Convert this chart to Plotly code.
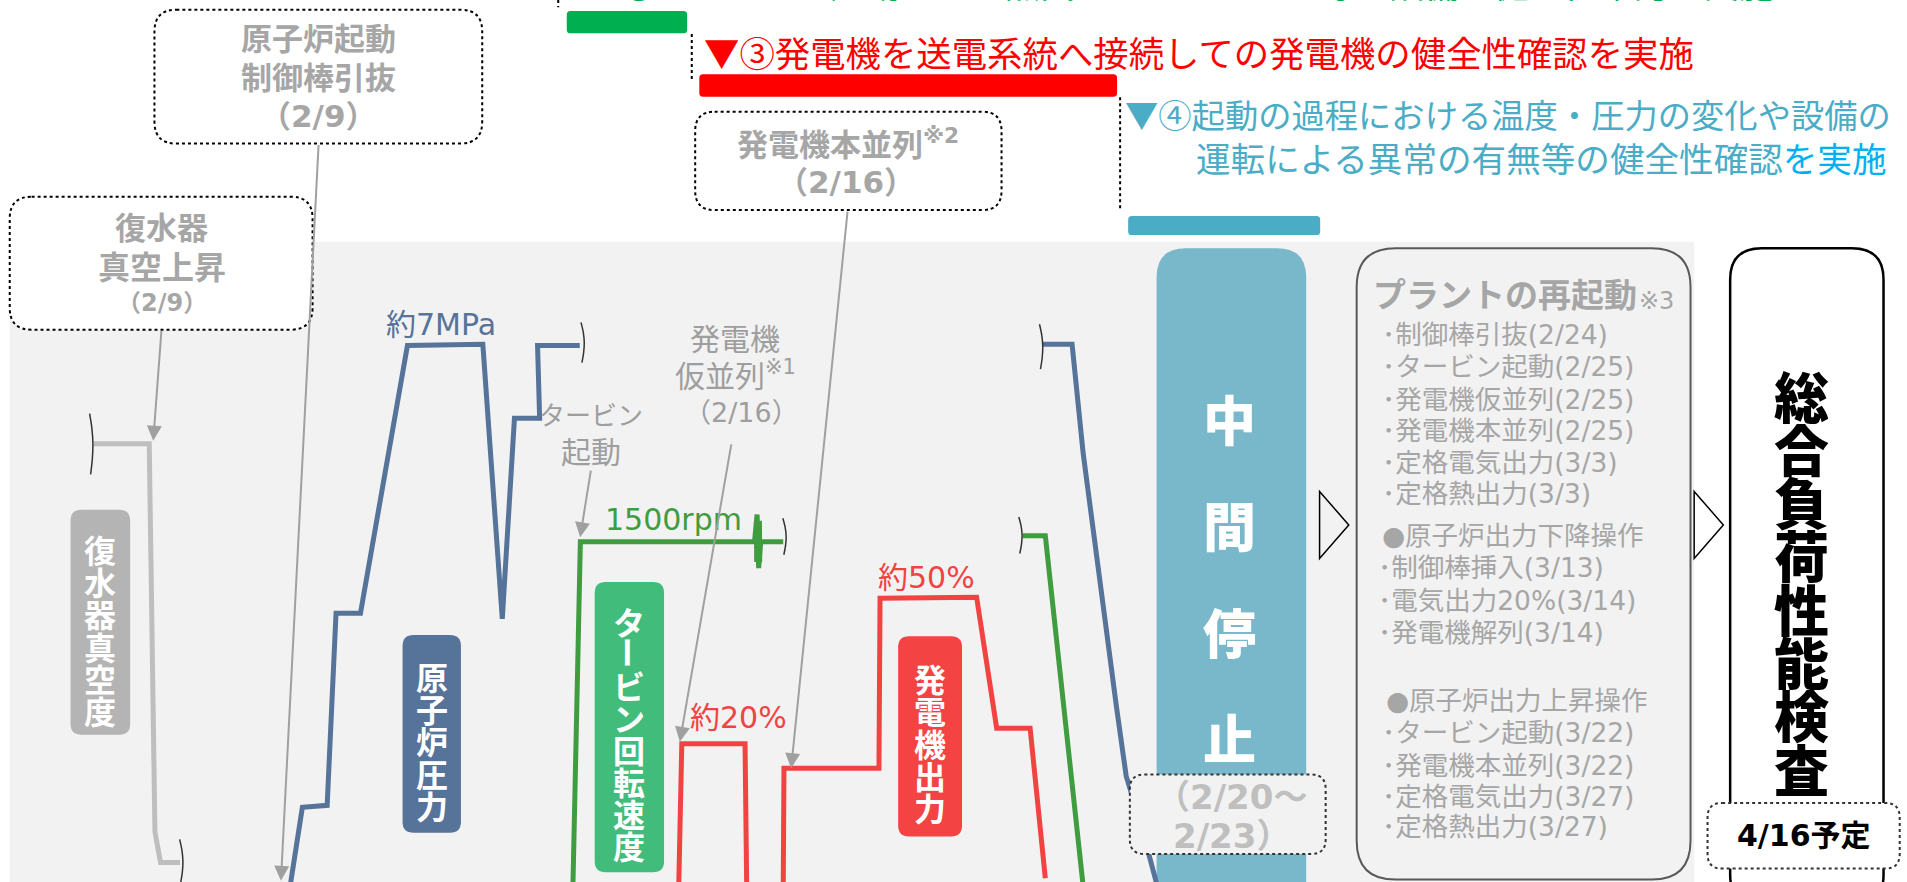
import plotly.graph_objects as go

# ---------------- data (schematic units on a 1568 x 725 canvas) ----------------
# 復水器真空度 (condenser vacuum)
condenser_x = [77, 122.7, 127.4, 132, 148]
condenser_y = [364.7, 364.7, 683.8, 709, 709]
# 原子炉圧力 (reactor pressure), before / after the break
pressure1_x = [238, 248.6, 269, 276.3, 296.4, 335, 397, 413, 423, 443.7, 442, 476.7]
pressure1_y = [732, 663.6, 662, 504, 504, 284, 283, 508.7, 343.8, 343.8, 284, 284]
pressure2_x = [857.6, 881.5, 890.6, 907, 918, 926, 937.4, 952]
pressure2_y = [283, 283, 372.5, 500, 581, 638, 675, 730]
# タービン回転速度 (turbine speed)
speed1_x = [471, 477.2, 620.4, 622.5, 623.8, 625.5, 644]
speed1_y = [732, 445.4, 445.4, 423, 467, 445.4, 445.4]
speed_spike_x = [623.2, 623.4]
speed_spike_y = [428, 462]
speed2_x = [841, 859.5, 891]
speed2_y = [440.4, 440.4, 732]
# 発電機出力 (generator output)
output1_x = [558, 560.6, 612.6, 614]
output1_y = [732, 611.4, 611.4, 732]
output2_x = [644, 644.6, 722.7, 723.6, 803, 819.5, 847, 859.5]
output2_y = [732, 631.5, 631.5, 491.8, 490.9, 598.6, 598.6, 722]

# break marks (x, y centre, height)
break_x = [75, 149, 479, 645, 839, 856]
break_y = [365, 708, 281.5, 441, 440, 285]
break_h = [50, 36, 33, 30, 30, 37]
break_dx = [-1.3, 0.6, 1.4, 0.9, -0.5]
break_t = [-0.5, -0.25, 0.0, 0.25, 0.5]

# texts
step2_text = "▼②タービンを起動しての蒸気によるタービン等の設備の健全性確認を実施"
step3_text = "▼③発電機を送電系統へ接続しての発電機の健全性確認を実施"
step4_line1 = "▼④起動の過程における温度・圧力の変化や設備の"
step4_line2 = "運転による異常の有無等の健全性確認"
step4_tail = "を実施"

callout1 = ["原子炉起動", "制御棒引抜", "（2/9）"]
callout2 = ["復水器", "真空上昇", "（2/9）"]
callout3 = ["発電機本並列<sup>※2</sup>", "（2/16）"]

restart_title = "プラントの再起動"
restart_items = ["･制御棒引抜(2/24)", "･タービン起動(2/25)", "･発電機仮並列(2/25)",
                 "･発電機本並列(2/25)", "･定格電気出力(3/3)", "･定格熱出力(3/3)",
                 "●原子炉出力下降操作", "･制御棒挿入(3/13)", "･電気出力20%(3/14)",
                 "･発電機解列(3/14)", "●原子炉出力上昇操作", "･タービン起動(3/22)",
                 "･発電機本並列(3/22)", "･定格電気出力(3/27)", "･定格熱出力(3/27)"]
restart_item_x = [1134.5, 1134.5, 1134.5, 1134.5, 1134.5, 1134.5, 1134.7, 1131.5,
                  1131.5, 1131.5, 1137.7, 1134.5, 1134.5, 1134.5, 1134.5]
restart_item_y = [274.8, 301, 328, 353.7, 380, 406, 440, 466.6, 493.5, 519.7,
                  576, 602, 629, 655, 679]

# ---------------- styling ----------------
JP = "Noto Sans CJK JP"
MIX = "DejaVu Sans, Noto Sans CJK JP"
C_BLUE = "#56739A"
C_GRAY_LINE = "#BEBEBE"
C_GREEN = "#3F9C3F"
C_RED = "#F24343"
C_ARROW = "#A0A0A0"
C_TXT_GRAY = "#A6A6A6"

fig = go.Figure()

def curve(xs, ys, color, width=5):
    fig.add_trace(go.Scatter(x=xs, y=ys, mode="lines",
                             line=dict(color=color, width=width),
                             hoverinfo="skip", showlegend=False))

curve(condenser_x, condenser_y, C_GRAY_LINE)
curve(pressure1_x, pressure1_y, C_BLUE)
curve(pressure2_x, pressure2_y, C_BLUE)
curve(speed1_x, speed1_y, C_GREEN)
curve(speed_spike_x, speed_spike_y, C_GREEN, 8)
curve(speed2_x, speed2_y, C_GREEN)
curve(output1_x, output1_y, C_RED)
curve(output2_x, output2_y, C_RED)

for bx, by, bh in zip(break_x, break_y, break_h):
    fig.add_trace(go.Scatter(x=[bx + d for d in break_dx],
                             y=[by + t * bh for t in break_t],
                             mode="lines", line=dict(color="#333333", width=1.5, shape="spline"),
                             hoverinfo="skip", showlegend=False))

# ---------------- shapes ----------------
def rrect(x0, y0, x1, y1, r):
    return (f"M{x0+r},{y0} L{x1-r},{y0} Q{x1},{y0} {x1},{y0+r} L{x1},{y1-r} "
            f"Q{x1},{y1} {x1-r},{y1} L{x0+r},{y1} Q{x0},{y1} {x0},{y1-r} "
            f"L{x0},{y0+r} Q{x0},{y0} {x0+r},{y0} Z")

shapes = []
def box(x0, y0, x1, y1, r, fill, line_color=None, width=0, dash="solid", layer="below"):
    shapes.append(dict(type="path", path=rrect(x0, y0, x1, y1, r), xref="x", yref="y",
                       fillcolor=fill, layer=layer,
                       line=dict(color=line_color if line_color else "rgba(0,0,0,0)",
                                 width=width, dash=dash)))

def vline(x, y0, y1, color="black", width=2, dash="dot"):
    shapes.append(dict(type="line", x0=x, x1=x, y0=y0, y1=y1, xref="x", yref="y",
                       line=dict(color=color, width=width, dash=dash), layer="above"))

# grey panel
shapes.append(dict(type="rect", x0=8, x1=1393, y0=198.7, y1=730, xref="x", yref="y",
                   fillcolor="#F2F2F2", line=dict(width=0), layer="below"))
# top bars
box(466, 9, 565, 27.4, 3, "#00B050")
box(575, 61, 918.5, 79.5, 3, "#FF0000")
box(927.6, 177.6, 1085.5, 193.2, 3, "#4BACC6")
vline(459, 0, 6)
vline(568.8, 28, 65.8)
vline(921, 80, 172.7)
# callout boxes
box(127, 8, 396.5, 118, 18, "white", "black", 2, "dot", "below")
box(8, 161.7, 257, 271, 18, "white", "black", 2, "dot", "below")
box(571.6, 91.8, 823.5, 172.7, 16, "white", "black", 2, "dot", "below")
# coloured label boxes
box(58, 419, 107, 604, 9, "#B4B4B4")
box(331, 522, 379, 684.5, 9, C_BLUE)
box(489, 478.5, 546, 717, 9, "#42BC7A")
box(738.5, 523, 791, 687.6, 9, "#F44343")
# 中間停止
box(951, 204, 1074, 770, 24, "#78B8CA")
# plant restart box
box(1115.5, 204, 1390, 723, 32, "#F2F2F2", "#595959", 2)
# 総合負荷性能検査 box
box(1422.6, 204, 1548.7, 745, 26, "white", "black", 2.5)
# date boxes over curves
box(929, 636.6, 1090, 702, 12, "#F2F2F2", "#333333", 2, "dot", "above")
box(1404, 660, 1562, 714, 12, "white", "#333333", 2, "dot", "above")
# open triangles
for tx in (1085, 1393):
    shapes.append(dict(type="path", path=f"M{tx},404 L{tx+24},431.5 L{tx},459 Z",
                       xref="x", yref="y", fillcolor="rgba(0,0,0,0)",
                       line=dict(color="black", width=1.5), layer="above"))

# ---------------- annotations ----------------
ann = []
def txt(x, y, text, size, color, bold=False, xanchor="center", yanchor="middle",
        family=MIX, angle=0, weight=None):
    w = weight if weight else ("bold" if bold else "normal")
    ann.append(dict(x=x, y=y, xref="x", yref="y", text=text, showarrow=False,
                    xanchor=xanchor, yanchor=yanchor, textangle=angle,
                    font=dict(family=family, size=size, color=color, weight=w)))

def vtext(chars, x, y0, dy, size, color, weight="bold", family=JP):
    for i, c in enumerate(chars):
        txt(x, y0 + i * dy, c, size, color, family=family,
            angle=90 if c == "ー" else 0, weight=weight)

def arrow(tail_x, tail_y, tip_x, tip_y):
    ann.append(dict(x=tip_x, y=tip_y, ax=tail_x, ay=tail_y, xref="x", yref="y",
                    axref="x", ayref="y", text="", showarrow=True, arrowhead=2,
                    arrowsize=1.5, arrowwidth=2, arrowcolor=C_ARROW, standoff=0))

# top step texts (the first one is mostly above the top edge, as in the original)
txt(480, 8.3, step2_text, 35, "#00B050", xanchor="left", yanchor="bottom", family=JP)
txt(577, 42, step3_text, 35.4, "#FF0000", xanchor="left", family=JP)
txt(923, 93, step4_line1, 33.3, "#4BACC6", xanchor="left", family=JP)
txt(981.5, 129.3, step4_line2 + f'<span style="color:#00B0F0">{step4_tail}</span>',
    34.6, "#4BACC6", xanchor="left", family=JP)

# callouts
for t, y in zip(callout1, [32, 64.4, 95]):
    txt(261.5, y, t, 31, C_TXT_GRAY, True)
txt(133, 187.6, callout2[0], 31, C_TXT_GRAY, True)
txt(133, 220, callout2[1], 32, C_TXT_GRAY, True)
txt(133, 248.7, callout2[2], 24, C_TXT_GRAY, True)
txt(697, 117.8, callout3[0], 31, C_TXT_GRAY, True)
txt(696, 150, callout3[1], 31, C_TXT_GRAY, True)

# curve labels
txt(362.5, 266.5, "約7MPa", 30, C_BLUE)
txt(496, 427, "1500rpm", 30, C_GREEN, xanchor="left")
txt(566, 590, "約20%", 30, C_RED, xanchor="left")
txt(720.5, 475, "約50%", 30, C_RED, xanchor="left")
txt(486, 340, "タービン", 26, "#9E9E9E", family=JP)
txt(486, 370, "起動", 30, "#9E9E9E", family=JP)
txt(604.5, 277, "発電機", 30, "#9E9E9E", family=JP)
txt(604.5, 308, "仮並列<sup>※1</sup>", 30, "#9E9E9E", family=MIX)
txt(610, 339, "（2/16）", 27, "#9E9E9E", family=MIX)

# vertical labels
vtext("復水器真空度", 82.5, 451.4, 26.4, 32, "white")
vtext("原子炉圧力", 355, 555.8, 26.4, 32, "white")
vtext("タービン回転速度", 517.5, 510.4, 26.35, 32, "white")
vtext("発電機出力", 764.8, 557.5, 26.5, 32, "white")
vtext("中間停止", 1011, 343.7, 87.4, 53, "white", weight=900)
vtext("総合負荷性能検査", 1481, 323.5, 43.8, 55, "black", weight=900)

txt(949, 655, "（2/20～", 34, "#BFBFBF", True, xanchor="left")
txt(963, 687, "2/23）", 34, "#BFBFBF", True, xanchor="left")
txt(1483, 687, "4/16予定", 30, "black", True)

# plant restart list
txt(1127, 241, restart_title, 33, C_TXT_GRAY, True, xanchor="left", family=JP)
txt(1346, 247.6, "※3", 24, C_TXT_GRAY, xanchor="left")
for t, x, y in zip(restart_items, restart_item_x, restart_item_y):
    txt(x, y, t, 26.5, C_TXT_GRAY, xanchor="left")

# arrows
arrow(132.8, 271, 126, 362.3)
arrow(262, 118, 231, 724)
arrow(697, 172.7, 650.5, 631.5)
arrow(486, 385.6, 477, 441.7)
arrow(601.5, 364, 559, 609.7)

fig.update_layout(
    width=1907, height=882, margin=dict(l=0, r=0, t=0, b=0),
    paper_bgcolor="white", plot_bgcolor="white", showlegend=False,
    xaxis=dict(range=[0, 1568], visible=False, fixedrange=True),
    yaxis=dict(range=[725, 0], visible=False, fixedrange=True),
    shapes=shapes, annotations=ann,
)
fig.write_html("out.html")
